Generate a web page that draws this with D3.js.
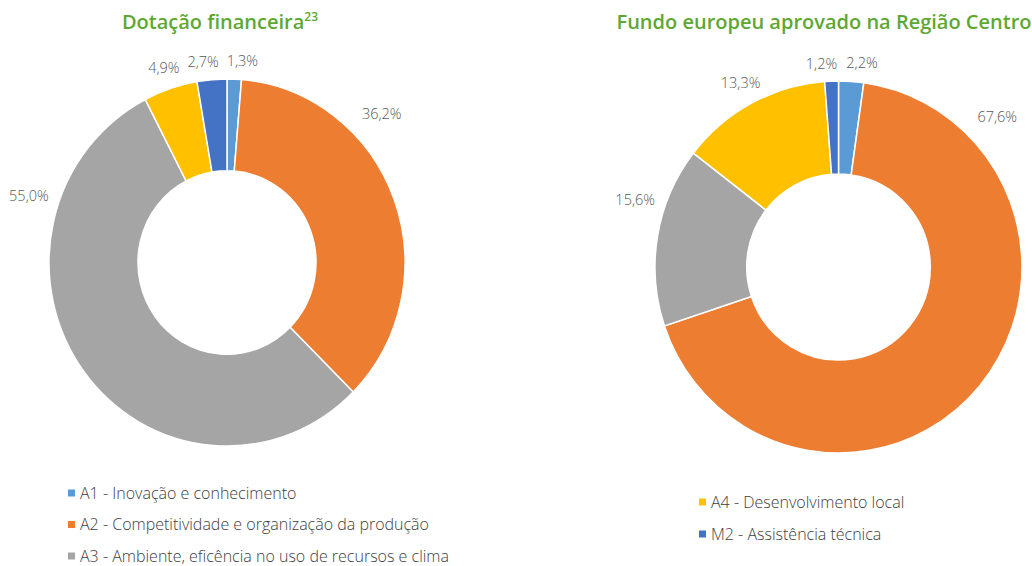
<!DOCTYPE html>
<html>
<head>
<meta charset="utf-8">
<script src="https://cdn.jsdelivr.net/npm/d3@7"></script>
<style>
  html, body { margin: 0; padding: 0; background: #fff; }
  svg { display: block; }
</style>
</head>
<body>
<svg id="chart" width="1032" height="566"></svg>
<script>
// ---- data ----
const categories = ["A1", "A2", "A3", "A4", "M2"];
const dotacaoValues = [1.3, 36.2, 55.0, 4.9, 2.7];
const fundoValues = [2.2, 67.6, 15.6, 13.3, 1.2];
const titleLeft = "Dotação financeira";
const titleLeftSup = "23";
const titleRight = "Fundo europeu aprovado na Região Centro";
const legendLeftKeys = ["A1", "A2", "A3"];
const legendLeftLabels = ["A1 - Inovação e conhecimento", "A2 - Competitividade e organização da produção", "A3 - Ambiente, eficência no uso de recursos e clima"];
const legendRightKeys = ["A4", "M2"];
const legendRightLabels = ["A4 - Desenvolvimento local", "M2 - Assistência técnica"];

// ---- styles ----
const colors = d3.scaleOrdinal().domain(categories)
  .range(["#5B9BD5", "#ED7D31", "#A5A5A5", "#FFC000", "#4472C4"]);
const green = "#5EA832";
const textGrey = "#595959";
const font = "'Open Sans', 'Noto Sans', sans-serif";

const svg = d3.select("#chart");

function fmt(v) { return v.toFixed(1).replace(".", ",") + "%"; }

function drawDonut(values, cx, cy, rx, ry) {
  const sy = ry / rx;
  const pie = d3.pie().sort(null).value(d => d)(values);
  const arc = d3.arc().innerRadius(rx * 0.5).outerRadius(rx);
  const g = svg.append("g").attr("transform", `translate(${cx},${cy}) scale(1,${sy})`);
  g.selectAll("path").data(pie).join("path")
    .attr("d", arc)
    .attr("fill", (d, i) => colors(categories[i]))
    .attr("stroke", "#fff")
    .attr("stroke-width", 1.5)
    .attr("vector-effect", "non-scaling-stroke");

  // label layout: mid angle, clamped to the upper sides, spread apart
  const deg = Math.PI / 180;
  let labels = pie.map((d, i) => {
    let a = (d.startAngle + d.endAngle) / 2;
    if (a > Math.PI) a -= 2 * Math.PI;
    a = Math.max(-72 * deg, Math.min(47 * deg, a));
    return { a, v: values[i] };
  });
  const sorted = labels.slice().sort((p, q) => p.a - q.a);
  const minSep = 11.5 * deg;
  for (let pass = 0; pass < 10; pass++) {
    for (let k = 0; k < sorted.length - 1; k++) {
      const diff = sorted[k + 1].a - sorted[k].a;
      if (diff < minSep) {
        const s = (minSep - diff) / 2;
        sorted[k].a -= s; sorted[k + 1].a += s;
      }
    }
  }
  labels.forEach(l => {
    const r = rx + 16 + (l.a > 0 ? 24 : 15) * Math.abs(Math.sin(l.a));
    svg.append("text")
      .attr("x", cx + Math.sin(l.a) * r)
      .attr("y", cy - Math.cos(l.a) * r * sy)
      .attr("dy", "0.35em")
      .attr("text-anchor", "middle")
      .attr("font-family", font)
      .attr("font-weight", 300)
      .attr("font-size", 14.5)
      .attr("fill", textGrey)
      .text(fmt(l.v));
  });
}

function drawTitle(txt, sup, x, y) {
  const t = svg.append("text")
    .attr("x", x).attr("y", y)
    .attr("text-anchor", "middle")
    .attr("font-family", font)
    .attr("font-weight", 600)
    .attr("font-size", 20)
    .attr("fill", green)
    .text(txt);
  if (sup) {
    t.append("tspan").attr("dy", -8).attr("font-size", 12).text(sup);
  }
}

function drawLegend(keys, labels, x, y0, step) {
  keys.forEach((k, i) => {
    const y = y0 + i * step;
    svg.append("rect")
      .attr("x", x).attr("y", y - 3.5)
      .attr("width", 7).attr("height", 7)
      .attr("fill", colors(k));
    svg.append("text")
      .attr("x", x + 12).attr("y", y)
      .attr("dy", "0.35em")
      .attr("font-family", font)
      .attr("font-weight", 300)
      .attr("font-size", 16)
      .attr("fill", "#404040")
      .text(labels[i]);
  });
}

drawTitle(titleLeft, titleLeftSup, 220, 29);
drawTitle(titleRight, null, 824, 29);
drawDonut(dotacaoValues, 227, 262.5, 178, 183.5);
drawDonut(fundoValues, 838.5, 267, 183.5, 186);
drawLegend(legendLeftKeys, legendLeftLabels, 68, 493, 31.5);
drawLegend(legendRightKeys, legendRightLabels, 699, 502, 32);
</script>
</body>
</html>
